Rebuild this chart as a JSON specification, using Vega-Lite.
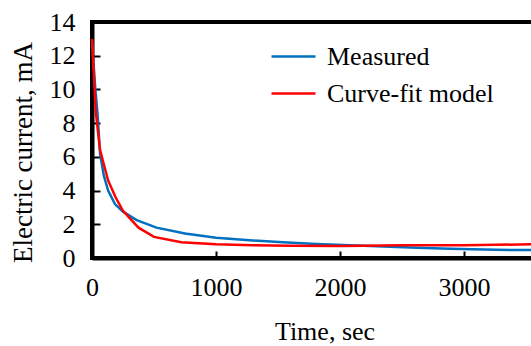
{
  "$schema": "https://vega.github.io/schema/vega-lite/v6.json",
  "autosize": "none",
  "padding": {"left": 92, "top": 22, "right": 0, "bottom": 88},
  "width": 465,
  "height": 236,
  "background": "white",
  "config": {
    "font": "Liberation Serif",
    "view": {"stroke": "black", "strokeWidth": 4},
    "style": {"guide-label": {"font": "Liberation Serif"}, "guide-title": {"font": "Liberation Serif"}},
    "axis": {"grid": false, "labelFont": "Liberation Serif", "titleFont": "Liberation Serif", "labelFontSize": 26, "titleFontSize": 26, "titleFontWeight": "normal", "labelColor": "black", "titleColor": "black", "domainColor": "black", "tickColor": "black"},
    "legend": {"labelFont": "Liberation Serif", "labelFontSize": 26, "labelColor": "black", "labelLimit": 400}
  },
  "data": {"values": [
    {"t": 0, "I": 12.9, "series": "Measured"},
    {"t": 25, "I": 10.2, "series": "Measured"},
    {"t": 45, "I": 8.5, "series": "Measured"},
    {"t": 65, "I": 6.2, "series": "Measured"},
    {"t": 95, "I": 4.9, "series": "Measured"},
    {"t": 130, "I": 4.0, "series": "Measured"},
    {"t": 185, "I": 3.2, "series": "Measured"},
    {"t": 250, "I": 2.75, "series": "Measured"},
    {"t": 360, "I": 2.25, "series": "Measured"},
    {"t": 520, "I": 1.8, "series": "Measured"},
    {"t": 750, "I": 1.45, "series": "Measured"},
    {"t": 1000, "I": 1.2, "series": "Measured"},
    {"t": 1270, "I": 1.05, "series": "Measured"},
    {"t": 1540, "I": 0.93, "series": "Measured"},
    {"t": 1810, "I": 0.83, "series": "Measured"},
    {"t": 2080, "I": 0.75, "series": "Measured"},
    {"t": 2350, "I": 0.68, "series": "Measured"},
    {"t": 2620, "I": 0.61, "series": "Measured"},
    {"t": 2890, "I": 0.55, "series": "Measured"},
    {"t": 3160, "I": 0.5, "series": "Measured"},
    {"t": 3430, "I": 0.47, "series": "Measured"},
    {"t": 3750, "I": 0.47, "series": "Measured"},
    {"t": 0, "I": 13.0, "series": "Curve-fit model"},
    {"t": 30, "I": 8.7, "series": "Curve-fit model"},
    {"t": 65, "I": 6.4, "series": "Curve-fit model"},
    {"t": 130, "I": 4.6, "series": "Curve-fit model"},
    {"t": 190, "I": 3.6, "series": "Curve-fit model"},
    {"t": 250, "I": 2.8, "series": "Curve-fit model"},
    {"t": 375, "I": 1.8, "series": "Curve-fit model"},
    {"t": 500, "I": 1.25, "series": "Curve-fit model"},
    {"t": 720, "I": 0.93, "series": "Curve-fit model"},
    {"t": 1000, "I": 0.82, "series": "Curve-fit model"},
    {"t": 1300, "I": 0.76, "series": "Curve-fit model"},
    {"t": 1600, "I": 0.72, "series": "Curve-fit model"},
    {"t": 2000, "I": 0.71, "series": "Curve-fit model"},
    {"t": 2200, "I": 0.73, "series": "Curve-fit model"},
    {"t": 2500, "I": 0.76, "series": "Curve-fit model"},
    {"t": 3000, "I": 0.76, "series": "Curve-fit model"},
    {"t": 3540, "I": 0.81, "series": "Curve-fit model"},
    {"t": 3750, "I": 0.83, "series": "Curve-fit model"}
  ]},
  "encoding": {
    "x": {"field": "t", "type": "quantitative", "title": "Time, sec",
      "scale": {"domain": [0, 3750], "nice": false, "zero": true},
      "axis": {"values": [0, 1000, 2000, 3000], "format": "d", "labelFont": "Liberation Serif", "titleFont": "Liberation Serif", "domainWidth": 4, "tickSize": -7, "tickWidth": 2, "labelPadding": 23, "titlePadding": 18, "labelFlush": false}},
    "y": {"field": "I", "type": "quantitative", "title": "Electric current, mA",
      "scale": {"domain": [0, 14], "nice": false},
      "axis": {"values": [0, 2, 4, 6, 8, 10, 12, 14], "format": "d", "labelFont": "Liberation Serif", "titleFont": "Liberation Serif", "titleFontSize": 27, "domainWidth": 4, "tickSize": -8, "tickWidth": 2, "labelPadding": 25, "titlePadding": 12, "titleY": 130, "labelFlush": false}},
    "color": {"field": "series", "type": "nominal",
      "scale": {"domain": ["Measured", "Curve-fit model"], "range": ["#0070C0", "#FF0000"]},
      "legend": {"title": null, "orient": "none", "legendX": 178, "legendY": 11, "symbolType": "stroke", "symbolSize": 1936, "symbolStrokeWidth": 2.5, "labelOffset": 10, "rowPadding": 0, "padding": 0, "labelFont": "Liberation Serif"}}
  },
  "layer": [
    {"transform": [{"filter": "datum.series === 'Measured'"}], "mark": {"type": "line", "strokeWidth": 2.5}},
    {"transform": [{"filter": "datum.series === 'Curve-fit model'"}], "mark": {"type": "line", "strokeWidth": 2.5}}
  ]
}
